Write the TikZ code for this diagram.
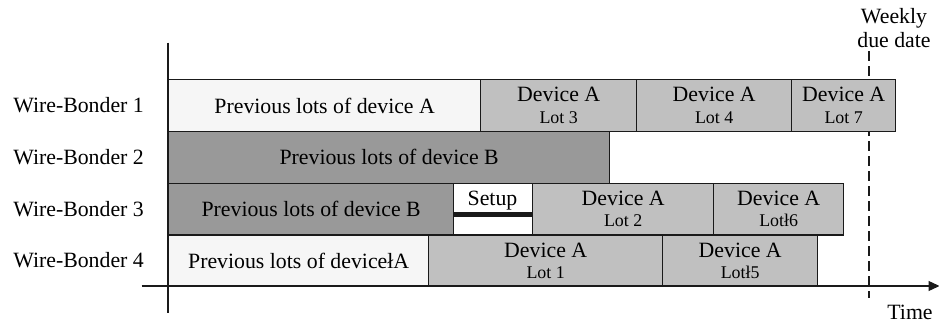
\documentclass[tikz,border=0pt]{standalone}
\usepackage{fontspec}
\setmainfont{Liberation Serif}
\usetikzlibrary{arrows.meta}

\definecolor{prevA}{HTML}{F6F6F6}
\definecolor{prevB}{HTML}{999999}
\definecolor{lotfill}{HTML}{C0C0C0}
\definecolor{edge}{HTML}{1A1A1A}

\newcommand{\bigtxt}{\fontsize{21.8}{21.6}\selectfont}
\newcommand{\lottxt}{\fontsize{17.9}{21.6}\selectfont}

\tikzset{
  slot/.style={draw=edge, line width=1.3pt, anchor=north west, inner sep=0pt,
    align=center, font=\bigtxt},
  prevAbox/.style={slot, fill=prevA},
  prevBbox/.style={slot, fill=prevB},
  lotbox/.style={slot, fill=lotfill},
  setupbox/.style={slot, fill=white},
  rowlabel/.style={anchor=east, inner sep=0pt, font=\bigtxt},
  axis/.style={draw=edge, line width=1.3pt},
}

% place a slot spanning x1..x2 in a row starting at y1 with height h
\newcommand{\slotnode}[7]{%
  \node[#1, minimum width={#4-#3}, minimum height=#6] (#2) at (#3,#5) {#7};}

\begin{document}
\begin{tikzpicture}[x=1pt, y=-1pt]
\useasboundingbox (0,0) rectangle (939,324);

% weekly due date marker (drawn first so the slots cover it)
\node[align=center, inner sep=0pt, font=\fontsize{21.8}{24}\selectfont] (due) at (894,27.7) {Weekly\\due date};
\coordinate (dtop) at (869,51);
\coordinate (dbot) at (869,298);
\draw[edge, line width=2.8pt, dash pattern=on 10pt off 5pt] (dtop) -- (dbot);

% row labels
\node[rowlabel] (wb1) at (144,105) {Wire-Bonder 1};
\node[rowlabel] (wb2) at (144,157) {Wire-Bonder 2};
\node[rowlabel] (wb3) at (144,209) {Wire-Bonder 3};
\node[rowlabel] (wb4) at (144,260.5) {Wire-Bonder 4};

% Wire-Bonder 1
\slotnode{prevAbox}{r1a}{168}{480}{79}{51.75}{Previous lots of device A}
\slotnode{lotbox}{r1b}{480}{636}{79}{51.75}{Device A\\\lottxt Lot 3}
\slotnode{lotbox}{r1c}{636}{791}{79}{51.75}{Device A\\\lottxt Lot 4}
\slotnode{lotbox}{r1d}{791}{895}{79}{51.75}{Device A\\\lottxt Lot 7}

% Wire-Bonder 2
\slotnode{prevBbox}{r2a}{168}{609}{130.75}{51.75}{Previous lots of device B}

% Wire-Bonder 3
\slotnode{prevBbox}{r3a}{168}{453}{182.5}{51.75}{Previous lots of device B}
\slotnode{setupbox}{r3s}{453}{532}{182.5}{51.75}{}
\slotnode{lotbox}{r3b}{532}{713}{182.5}{51.75}{Device A\\\lottxt Lot 2}
\slotnode{lotbox}{r3c}{713}{843}{182.5}{51.75}{Device A\\\lottxt Lotł6}
\node[anchor=base, inner sep=0pt, font=\bigtxt] (setuptxt) at (492.5,205) {Setup};
\draw[edge, line width=5pt] (r3s.west |- 0,214) coordinate (barL) -- (r3s.east |- 0,214) coordinate (barR);

% Wire-Bonder 4
\slotnode{prevAbox}{r4a}{168}{428}{234.25}{51.75}{Previous lots of devicełA}
\slotnode{lotbox}{r4b}{428}{662}{234.25}{51.75}{Device A\\\lottxt Lot 1}
\slotnode{lotbox}{r4c}{662}{817}{234.25}{51.75}{Device A\\\lottxt Lotł5}

% axes
\coordinate (xs) at (141.5,286);
\coordinate (xe) at (939.5,286);
\coordinate (ys) at (168,42.5);
\coordinate (ye) at (168,312.5);
\draw[axis, -{Triangle[length=11pt,width=10pt]}] (xs) -- (xe);
\draw[axis] (ys) -- (ye);

\node[anchor=base, inner sep=0pt, font=\bigtxt] (time) at (910,319) {Time};
\end{tikzpicture}
\end{document}
